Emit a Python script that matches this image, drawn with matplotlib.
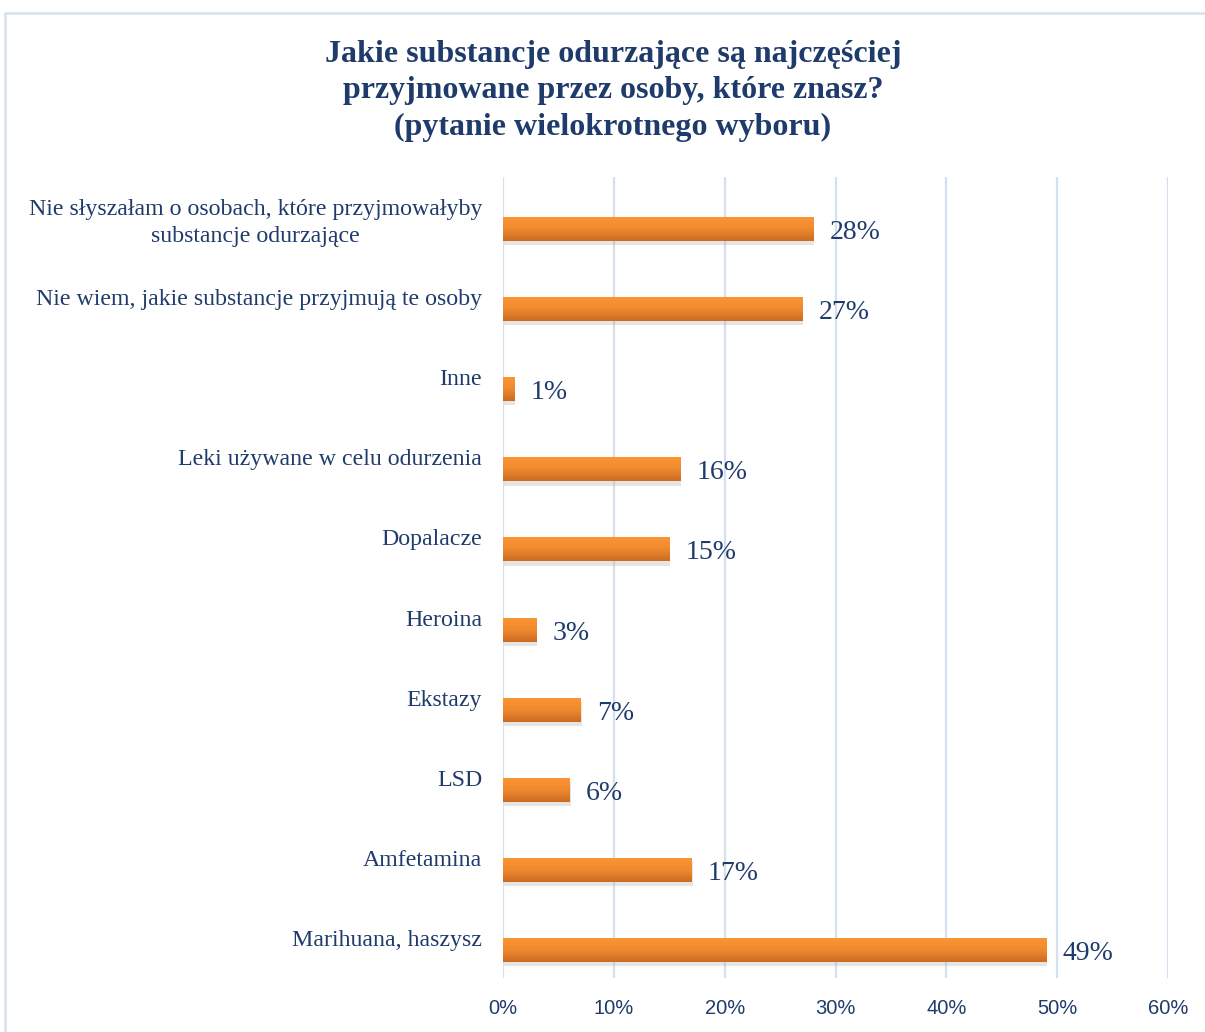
import numpy as np
import matplotlib
matplotlib.use("Agg")
import matplotlib.pyplot as plt
from matplotlib.patches import Rectangle
from matplotlib.colors import to_rgb
import matplotlib.patheffects as pe

categories = [
    "Nie słyszałam o osobach, które przyjmowałyby\nsubstancje odurzające",
    "Nie wiem, jakie substancje przyjmują te osoby",
    "Inne",
    "Leki używane w celu odurzenia",
    "Dopalacze",
    "Heroina",
    "Ekstazy",
    "LSD",
    "Amfetamina",
    "Marihuana, haszysz",
]
values = [28, 27, 1, 16, 15, 3, 7, 6, 17, 49]
xticks = [0, 10, 20, 30, 40, 50, 60]
title = ("Jakie substancje odurzające są najczęściej\n"
         "przyjmowane przez osoby, które znasz?\n"
         "(pytanie wielokrotnego wyboru)")

NAVY = "#1F3B6B"
GRID = "#D5E0EF"

W, H = 1205, 1032
fig = plt.figure(figsize=(W / 100, H / 100), dpi=100)

# outer chart border
fig.patches.append(Rectangle((5 / W, -0.1), 1.2, 1 - 13 / H + 0.1, transform=fig.transFigure,
                             fill=False, edgecolor="#D7E1EE", linewidth=1.8))

left, right = 503 / W, 1168 / W
top, bottom = 1 - 177 / H, 1 - 978 / H
ax = fig.add_axes([left, bottom, right - left, top - bottom])

n = len(categories)
pos = np.arange(n)[::-1].astype(float)
bar_h = 0.3
centers = pos - 0.15

ax.set_xlim(0, 60)
ax.set_ylim(-0.5, n - 0.5)

c_top = np.array(to_rgb("#FB9535"))
c_mid = np.array(to_rgb("#F18A2F"))
c_bot = np.array(to_rgb("#CC6B21"))
t = np.linspace(0, 1, 64)[:, None]
grad = np.where(t < 0.5, c_top + (c_mid - c_top) * (t / 0.5), c_mid + (c_bot - c_mid) * ((t - 0.5) / 0.5))
grad = grad[:, None, :]

for c, v in zip(centers, values):
    rect = Rectangle((0, c - bar_h / 2), v, bar_h, facecolor="#E8822C", edgecolor="none", zorder=3,
                     path_effects=[pe.SimplePatchShadow(offset=(0.8, -3), shadow_rgbFace="#999999", alpha=0.25),
                                   pe.Normal()])
    ax.add_patch(rect)
    im = ax.imshow(grad, extent=(0, v, c - bar_h / 2, c + bar_h / 2), origin="upper",
                   aspect="auto", zorder=4, interpolation="bilinear")
    im.set_clip_path(rect)
    ax.annotate(f"{v}%", xy=(v, c), xytext=(12, -2.5), textcoords="offset points",
                va="center", ha="left", fontsize=20, color=NAVY, family="Liberation Serif", zorder=5)

ax.set_xlim(0, 60)
ax.set_ylim(-0.5, n - 0.5)

ax.set_xticks(xticks)
ax.set_xticklabels([f"{x}%" for x in xticks], family="Liberation Sans", fontsize=14.5, color=NAVY)
ax.set_yticks(pos)
ax.set_yticklabels(categories, family="Liberation Serif", fontsize=17.2, color=NAVY)
for lbl in ax.get_yticklabels():
    lbl.set_multialignment("center")
    lbl.set_linespacing(1.4)
ax.tick_params(axis="both", length=0)
ax.tick_params(axis="x", pad=15)
ax.tick_params(axis="y", pad=15)
ax.grid(axis="x", color=GRID, linewidth=1.6, zorder=0)
ax.set_axisbelow(True)
for s in ax.spines.values():
    s.set_visible(False)

fig.text(613 / W, 1 - 91 / H, title, ha="center", va="center", fontsize=23, fontweight="bold",
         color=NAVY, family="Liberation Serif", linespacing=1.36)

fig.savefig("out.png", dpi=100)
